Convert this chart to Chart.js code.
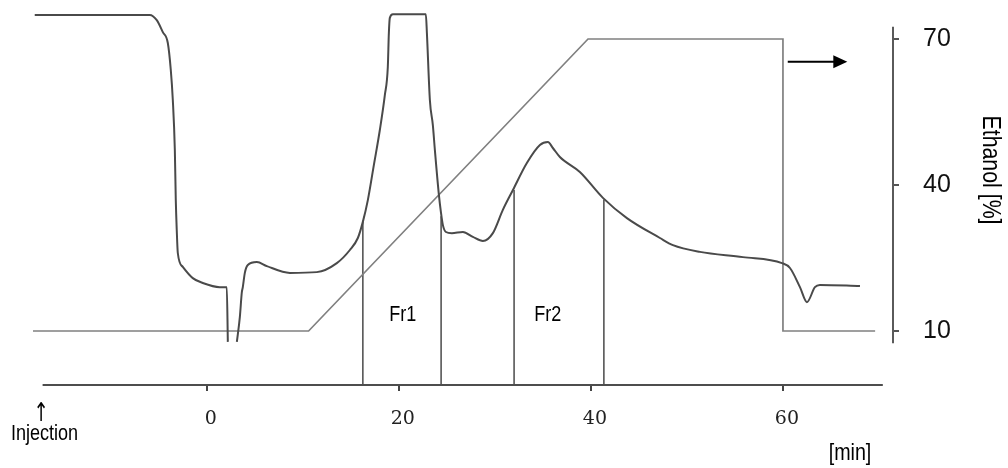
<!DOCTYPE html>
<html><head><meta charset="utf-8">
<script src="https://cdn.jsdelivr.net/npm/chart.js@4.4.1/dist/chart.umd.min.js"></script>
<style>html,body{margin:0;padding:0;background:#fff;}#wrap{width:1008px;height:468px;}</style>
</head><body><div id="wrap"><canvas id="c" width="1008" height="468"></canvas></div>
<script>
// ---- data ----
const traceTime = [-17.92, -5.94, -5.21, -4.58, -4.06, -3.75, -3.54, -3.33, -3.23, -3.13, -3.02, -2.5, -1.46, -0.42, 1.35, 2.08, 2.19, 2.66, 3.13, 3.44, 3.65, 3.75, 3.96, 4.27, 5.21, 6.25, 8.65, 11.46, 13.54, 14.9, 15.73, 16.25, 16.77, 17.4, 18.02, 18.54, 18.85, 18.96, 19.06, 19.38, 22.81, 22.92, 23.23, 23.54, 23.75, 24.17, 24.38, 24.58, 24.9, 25.52, 26.67, 27.71, 28.75, 29.79, 30.83, 31.88, 33.33, 34.69, 35.52, 36.04, 36.77, 38.85, 41.25, 43.75, 47.19, 48.54, 51.35, 55.83, 59.9, 60.73, 61.77, 62.5, 63.33, 63.85, 68.02];
const traceAbs = [98.7, 98.7, 97.3, 94.1, 91.2, 84.0, 76.0, 62.7, 49.3, 41.3, 35.2, 31.5, 28.5, 27.2, 26.1, 26.1, 11.5, null, 11.5, 18.1, 24.8, 26.1, 29.9, 32.0, 32.8, 31.7, 29.9, 30.1, 32.5, 36.0, 39.2, 43.5, 49.3, 58.7, 68.0, 77.3, 84.8, 93.9, 97.9, 98.9, 98.9, 93.9, 76.0, 69.3, 62.7, 50.7, 46.1, 42.7, 40.8, 40.5, 40.8, 39.5, 38.4, 40.5, 46.7, 52.0, 59.2, 64.0, 64.8, 63.2, 60.8, 56.8, 49.9, 44.5, 39.2, 37.3, 35.5, 34.1, 32.5, 31.2, 26.1, 22.1, 26.1, 26.7, 26.4];
const gradTime = [-18.1, 10.6, 39.7, 60.0, 60.0, 69.6];
const gradEthanol = [10, 10, 70, 70, 10, 10];
const fracTime = [16.25, 24.4, 32.0, 41.35];
const fracTop = [43.5, 45.0, 52.0, 49.5];
const fracLabels = ['Fr1', 'Fr2'];
const fracLabelTime = [20.4, 35.5];
const fracLabelAbs = [18.7, 18.7];
const xTickValues = [0, 20, 40, 60];
const ethanolTicks = [10, 40, 70];
const xAxisSpan = [-17.1, 70.4];
const ethanolAxisSpan = [7.5, 72.5];
const arrowTime = [60.5, 66.7];
const arrowEthanol = 65.3;

const SANS = "'Liberation Sans', Arial, sans-serif";

const datasets = [];
datasets.push({
  label: 'Absorbance', yAxisID: 'yA',
  data: traceTime.map((t, i) => ({x: t, y: traceAbs[i]})),
  borderColor: '#4a4a4a', borderWidth: 2, pointRadius: 0,
  cubicInterpolationMode: 'monotone', spanGaps: false, fill: false
});
datasets.push({
  label: 'Ethanol', yAxisID: 'yE',
  data: gradTime.map((t, i) => ({x: t, y: gradEthanol[i]})),
  borderColor: '#808080', borderWidth: 1.7, pointRadius: 0, tension: 0, fill: false
});
fracTime.forEach((t, i) => {
  datasets.push({
    label: 'frac' + i, yAxisID: 'yA',
    data: [{x: t, y: 0}, {x: t, y: fracTop[i]}],
    borderColor: '#555', borderWidth: 1.6, pointRadius: 0, tension: 0, fill: false
  });
});

function narrowText(ctx, text, x, y, size, rot, family, sx) {
  ctx.save();
  ctx.translate(x, y);
  if (rot) ctx.rotate(rot);
  ctx.scale(sx || 0.82, 1);
  ctx.font = size + 'px ' + (family || SANS);
  ctx.fillText(text, 0, 0);
  ctx.restore();
}

const annot = {
  id: 'annot',
  afterDraw(chart) {
    const {ctx, chartArea, scales} = chart;
    const x = scales.x, yE = scales.yE, yA = scales.yA;
    ctx.save();
    // x axis line
    ctx.strokeStyle = '#4d4d4d'; ctx.lineWidth = 2;
    ctx.beginPath();
    ctx.moveTo(x.getPixelForValue(xAxisSpan[0]), chartArea.bottom);
    ctx.lineTo(x.getPixelForValue(xAxisSpan[1]), chartArea.bottom);
    ctx.stroke();
    // right axis line
    ctx.strokeStyle = '#5a5a5a';
    ctx.beginPath();
    ctx.moveTo(chartArea.right, yE.getPixelForValue(ethanolAxisSpan[1]));
    ctx.lineTo(chartArea.right, yE.getPixelForValue(ethanolAxisSpan[0]));
    ctx.stroke();
    // arrow
    const ay = yE.getPixelForValue(arrowEthanol);
    const ax0 = x.getPixelForValue(arrowTime[0]), ax1 = x.getPixelForValue(arrowTime[1]);
    ctx.strokeStyle = '#000'; ctx.fillStyle = '#000'; ctx.lineWidth = 2;
    ctx.beginPath(); ctx.moveTo(ax0, ay); ctx.lineTo(ax1 - 10, ay); ctx.stroke();
    ctx.beginPath(); ctx.moveTo(ax1, ay); ctx.lineTo(ax1 - 14, ay - 6.5); ctx.lineTo(ax1 - 14, ay + 6.5); ctx.closePath(); ctx.fill();
    // texts
    ctx.fillStyle = '#000';
    ctx.textAlign = 'center'; ctx.textBaseline = 'middle';
    fracLabels.forEach((s, i) => {
      narrowText(ctx, s, x.getPixelForValue(fracLabelTime[i]), yA.getPixelForValue(fracLabelAbs[i]), 22);
    });
    narrowText(ctx, '[min]', 850, 453, 24);
    ctx.textBaseline = 'alphabetic';
    narrowText(ctx, 'Injection', 44.5, 440, 22);
    ctx.textBaseline = 'middle';
    narrowText(ctx, '\u2191', 41, 414, 26, 0, "'DejaVu Sans', sans-serif", 0.7);
    narrowText(ctx, 'Ethanol [%]', 990, 170, 26, Math.PI / 2);
    ctx.restore();
  }
};

new Chart(document.getElementById('c'), {
  type: 'line',
  data: { datasets },
  options: {
    responsive: false, animation: false, devicePixelRatio: 1,
    layout: { padding: { left: 33, top: 10, right: 0, bottom: 0 } },
    plugins: { legend: { display: false }, tooltip: { enabled: false } },
    scales: {
      x: {
        type: 'linear', position: 'bottom', min: -18.1, max: 71.46,
        border: { display: false },
        grid: { display: true, drawOnChartArea: false, drawTicks: true, tickLength: 6, color: '#444', lineWidth: 2 },
        afterBuildTicks: s => { s.ticks = xTickValues.map(v => ({value: v})); },
        afterFit: s => { s.height = 83; s.paddingLeft = 0; s.paddingRight = 0; },
        ticks: { font: { family: "'DejaVu Serif', 'Liberation Serif', serif", size: 19 }, color: '#222', padding: 17, labelOffset: 4, maxRotation: 0, autoSkip: false }
      },
      yA: { type: 'linear', display: false, min: 0, max: 100 },
      yE: {
        type: 'linear', position: 'right', min: -1.095, max: 75.958,
        border: { display: false },
        grid: { display: true, drawOnChartArea: false, drawTicks: true, tickLength: 6, color: '#555', lineWidth: 2 },
        afterBuildTicks: s => { s.ticks = ethanolTicks.map(v => ({value: v})); },
        afterFit: s => { s.width = 115; s.paddingTop = 0; s.paddingBottom = 0; },
        ticks: { font: { family: SANS, size: 25 }, color: '#111', padding: 24, autoSkip: false }
      }
    }
  },
  plugins: [annot]
});
</script>
</body></html>
